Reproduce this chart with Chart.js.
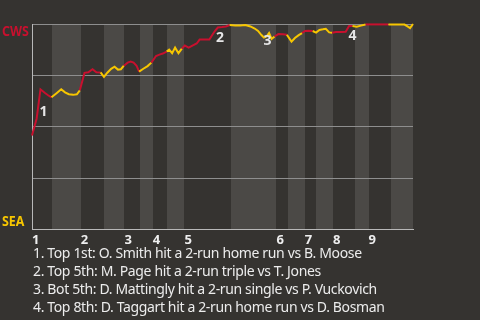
<!DOCTYPE html>
<html><head><meta charset="utf-8">
<script src="https://cdn.jsdelivr.net/npm/chart.js@4"></script>
<style>
html,body{margin:0;padding:0;background:#353330;width:480px;height:320px;overflow:hidden;}
#wrap{position:absolute;left:0;top:0;width:480px;height:251px;}
#notes{position:absolute;left:33px;top:244px;color:#ececec;font-family:"Noto Sans",sans-serif;font-size:14px;letter-spacing:-0.36px;line-height:18px;white-space:nowrap;}
</style></head><body>
<div id="wrap"><canvas id="c" width="480" height="251"></canvas></div>
<div id="notes"></div>
<script>
// ---- data ----
const playX = [0,1.1,2.0,3.0,3.8,4.6, 5.8,6.9,7.8,8.7,9.7,10.6,11.3, 12.4,13.3,14.3,15.2,16.2, 17.0,17.8,18.7,19.5,20.3,21.0,21.7, 22.6,23.3,24.0,24.7,25.3, 26.3,27.3,28.2, 29.3,30.1,30.9,31.8, 32.4,33.1,33.8,34.6,35.4, 36.1,37.0,37.9,38.9,39.6,40.7,41.9,42.5,43.2,43.9,44.9,45.8,46.7, 48.0,49.2,50.4,51.6,52.6,53.4,54.2,54.8,55.4,56.0,56.6,57.3, 58.2,59.3,60.2, 61.3,62.1,63.0,63.8, 64.5,65.3,66.3, 67.1,67.9,68.7,69.4,70.2,70.9, 71.8,73.0,74.1,74.9,75.7, 76.7,77.7,78.8, 80.0,81.0,82.1,83.1,84.2, 85.9,87.0,88.0,88.7,89.3,90.0];
const cwsWinProb = [.457,.540,.682,.665,.653,.643, .663,.682,.667,.658,.655,.658,.677, .762,.765,.780,.765,.764, .743,.763,.782,.792,.778,.780,.797, .812,.817,.812,.797,.768, .782,.795,.812, .844,.851,.856,.866, .875,.858,.885,.858,.880, .895,.885,.895,.905,.924,.924,.924,.944,.966,.983,.985,.988,.995, .993,.993,.995,.988,.978,.966,.946,.934,.939,.956,.927,.939, .951,.950,.948, .914,.932,.946,.956, .966,.967,.966, .958,.971,.974,.977,.959,.957, .961,.961,.962,.990,.990, .987,.992,.998, .998,.998,.998,.998,.998, .998,.997,.997,.988,.980,1.0];
const halfInningStarts = [0,4.7,11.5,16.9,21.85,25.5,28.5,32.0,36.0,47.1,57.75,60.5,64.4,67.0,71.1,76.4,79.5,84.9];
const gameEnd = 90;
const inningLabels = ['1','2','3','4','5','6','7','8','9'];
const topTeam = 'CWS';
const bottomTeam = 'SEA';
const eventX = [2.0, 43.2, 54.2, 74.9];
const eventLabels = ['1','2','3','4'];
const eventNotes = [
  '1. Top 1st: O. Smith hit a 2-run home run vs B. Moose',
  '2. Top 5th: M. Page hit a 2-run triple vs T. Jones',
  '3. Bot 5th: D. Mattingly hit a 2-run single vs P. Vuckovich',
  '4. Top 8th: D. Taggart hit a 2-run home run vs D. Bosman'
];

// ---- styles ----
const RED = '#c8102e', YELLOW = '#f7c600', BAND = '#4b4946', FONT = '"Noto Sans", sans-serif';
const eventOffsets = [[3,23],[5,7],[6,6],[3.5,10]];

function halfIndex(x){ let k=0; for(let i=0;i<halfInningStarts.length;i++){ if(halfInningStarts[i] < x) k=i; } return k; }

const bandsPlugin = {
  id:'bands',
  beforeDraw(chart){
    const {ctx, chartArea:a, scales:{x}} = chart;
    ctx.save(); ctx.fillStyle = BAND;
    for(let i=1;i<halfInningStarts.length;i+=2){
      const s = Math.round(x.getPixelForValue(halfInningStarts[i]));
      const e = Math.round(x.getPixelForValue(i+1<halfInningStarts.length?halfInningStarts[i+1]:gameEnd));
      ctx.fillRect(s, a.top, e-s, a.bottom-a.top);
    }
    ctx.restore();
  }
};
function squeezedText(ctx, t, x, y, sx){
  ctx.save(); ctx.translate(x, y); ctx.scale(sx, 1); ctx.fillText(t, 0, 0); ctx.restore();
}
const textPlugin = {
  id:'texts',
  afterDatasetsDraw(chart){
    const {ctx, chartArea:a, scales:{x,y}} = chart;
    ctx.save();
    ctx.textBaseline='middle';
    ctx.font = 'bold 15px ' + FONT; ctx.textAlign='left';
    ctx.fillStyle = RED; squeezedText(ctx, topTeam, 2, a.top+7.5, 0.83);
    ctx.fillStyle = YELLOW; squeezedText(ctx, bottomTeam, 2, a.bottom-7.5, 0.83);
    ctx.font = 'bold 14px ' + FONT; ctx.textAlign='center'; ctx.fillStyle='#e6e6e6';
    eventX.forEach((ex,i)=>{
      const j = playX.indexOf(ex);
      const px = x.getPixelForValue(ex), py = y.getPixelForValue(cwsWinProb[j]);
      ctx.fillText(eventLabels[i], px+eventOffsets[i][0], py+eventOffsets[i][1]);
    });
    ctx.restore();
  }
};

const inningStartValues = halfInningStarts.filter((v,i)=>i%2===0);

new Chart(document.getElementById('c'), {
  type:'line',
  data:{datasets:[{
    data: playX.map((v,i)=>({x:v, y:cwsWinProb[i]})),
    borderColor: RED, borderWidth:2, pointRadius:0, tension:0, clip:false,
    segment:{ borderColor: c => (halfIndex(c.p1.parsed.x)%2===0 ? RED : YELLOW) }
  }]},
  options:{
    responsive:false, animation:false, devicePixelRatio:1,
    layout:{padding:{left:32, top:24, right:67, bottom:0}},
    plugins:{legend:{display:false}, tooltip:{enabled:false}},
    scales:{
      x:{type:'linear', min:0, max:gameEnd,
         grid:{display:false, drawTicks:false},
         border:{color:'#b8b8b8', width:1},
         afterBuildTicks: s => { s.ticks = inningStartValues.map(v=>({value:v})); },
         ticks:{align:'start', color:'#eeeeee', padding:3, autoSkip:false, maxRotation:0,
                font:{family:FONT, weight:'bold', size:13},
                callback:(v,i)=>inningLabels[i]}},
      y:{min:0, max:1,
         ticks:{display:false, stepSize:0.25},
         grid:{color:'#8e8e8e', lineWidth:1, drawTicks:false},
         border:{color:'#b8b8b8', width:1}}
    }
  },
  plugins:[bandsPlugin, textPlugin]
});

document.getElementById('notes').innerHTML = eventNotes.map(t=>'<div>'+t+'</div>').join('');
</script>
</body></html>
